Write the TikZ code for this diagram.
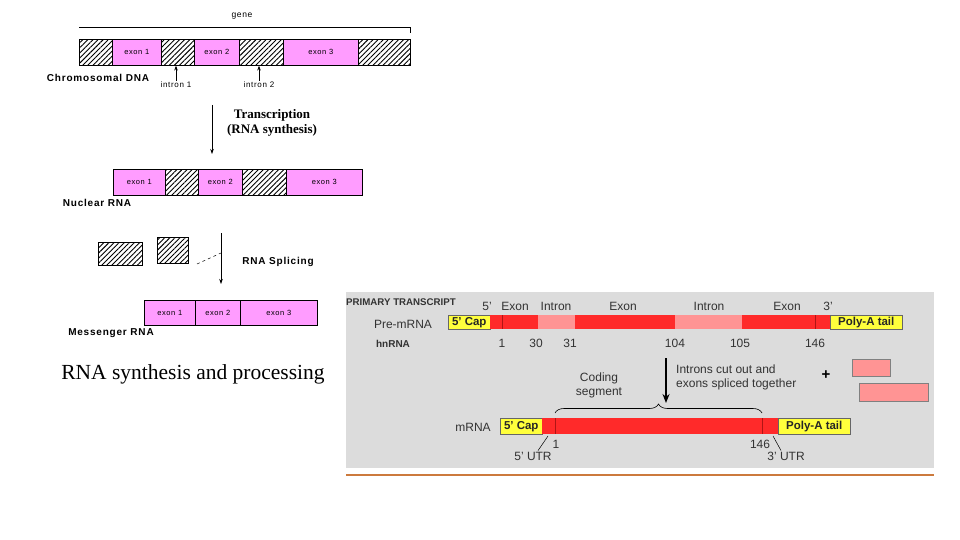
\documentclass[tikz,border=0pt]{standalone}
\usepackage{fontspec}
\setmainfont{Liberation Serif}
\setsansfont{Liberation Sans}
\newfontfamily\pixfont[LetterSpace=8]{Liberation Sans}
\usepackage{tikz}
\usetikzlibrary{arrows.meta, positioning, calc, patterns.meta, decorations.pathreplacing}
\definecolor{rnRosa}{HTML}{FF9CFF}
\definecolor{rnVermelho}{HTML}{FF2A2A}
\definecolor{rnSalmao}{HTML}{FF9494}
\definecolor{rnAmarelo}{HTML}{FFFF3C}
\definecolor{rnCinza}{HTML}{DCDCDC}
\definecolor{rnLaranja}{HTML}{CC7A3D}
\definecolor{rnEscuro}{HTML}{B01515}

\begin{document}
\begin{tikzpicture}[x=1pt, y=-1pt]
  \tikzset{
    seg/.style={draw, line width=0.6pt, anchor=north west, inner sep=0pt,
                font=\pixfont\fontsize{7.5}{8}\selectfont},
    exo/.style={seg, fill=rnRosa},
    intr/.style={seg, pattern={Lines[angle=45, distance=3.6pt, line width=0.9pt]}},
    rot/.style={font=\pixfont\bfseries\fontsize{10}{11}\selectfont, inner sep=1pt},
    miudo/.style={font=\pixfont\fontsize{8}{9}\selectfont, inner sep=1pt},
    seta/.style={-{Stealth[length=5pt, width=3.5pt]}, line width=0.6pt},
    rseg/.style={anchor=north west, inner sep=0pt, text=black!85,
                 font=\sffamily\bfseries\fontsize{11.5}{12}\selectfont},
    capa/.style={rseg, fill=rnAmarelo, draw=black!60, line width=0.5pt},
    ver/.style={rseg, fill=rnVermelho},
    sal/.style={rseg, fill=rnSalmao},
    rlab/.style={font=\sffamily\fontsize{12}{14}\selectfont, text=black!80, inner sep=1pt},
    marca/.style={rnEscuro, line width=0.6pt}}
  \useasboundingbox (0,0) rectangle (960,540);

  % chromosomal DNA
  \coordinate (gl) at (79,27);
  \coordinate (gr) at (410,27);
  \draw[line width=0.6pt] (gl) -- (gr) -- ([yshift=-6pt]gr);
  \node[miudo, font=\pixfont\fontsize{8.5}{9}\selectfont] (gn) at (242,16) {gene};
  \foreach \n/\x/\w/\s/\t in {d1/79/33/intr/, d2/112/49/exo/exon 1, d3/161/33/intr/,
      d4/194/45/exo/exon 2, d5/239/44/intr/, d6/283/75/exo/exon 3, d7/358/52/intr/}
    \node[\s, minimum width=\w pt, minimum height=26pt] (\n) at (\x,39) {\t};
  \node[rot] (cd) at (98,78) {Chromosomal DNA};
  \node[miudo] (t1) at (176,85) {intron 1};
  \node[miudo] (t2) at (259,85) {intron 2};
  \draw[seta] (t1.north) -- (t1.north |- d3.south);
  \draw[seta] (t2.north) -- (t2.north |- d5.south);

  % transcription
  \coordinate (ta) at (212,105);
  \coordinate (tb) at (212,154);
  \draw[seta] (ta) -- (tb);
  \node[font=\rmfamily\bfseries\fontsize{13}{15}\selectfont, align=center] (tr) at (272,123)
    {Transcription\\(RNA synthesis)};

  % nuclear RNA
  \foreach \n/\x/\w/\s/\t in {n1/113/52/exo/exon 1, n2/165/33/intr/, n3/198/44/exo/exon 2,
      n4/242/44/intr/, n5/286/76/exo/exon 3}
    \node[\s, minimum width=\w pt, minimum height=26pt] (\n) at (\x,169) {\t};
  \node[rot] (nr) at (97,203) {Nuclear RNA};

  % splicing
  \node[intr, minimum width=44pt, minimum height=23pt] (c1) at (98,242) {};
  \node[intr, minimum width=31pt, minimum height=26pt] (c2) at (157,237) {};
  \coordinate (sp) at (197,264);
  \coordinate (sq) at (221,253);
  \draw[dashed, line width=0.5pt] (sp) -- (sq);
  \coordinate (sa) at (221,233);
  \coordinate (sb) at (221,284);
  \draw[seta] (sa) -- (sb);
  \node[rot] (rs) at (278,262) {RNA Splicing};

  % messenger RNA
  \foreach \n/\x/\w/\t in {m1/144/51/exon 1, m2/195/45/exon 2, m3/240/77/exon 3}
    \node[exo, minimum width=\w pt, minimum height=25pt] (\n) at (\x,300) {\t};
  \node[rot] (mr) at (111,333) {Messenger RNA};
  \node[font=\rmfamily\fontsize{21.5}{23}\selectfont] (ttl) at (193,374) {RNA synthesis and processing};

  % primary transcript
  \fill[rnCinza] (346,292) rectangle (934,468);
  \draw[rnLaranja, line width=2pt] (346,475) -- (934,475);
  \node[rlab, font=\sffamily\bfseries\fontsize{9.7}{11}\selectfont, anchor=west] (pt) at (345,302) {PRIMARY TRANSCRIPT};
  \node[rlab] (pm) at (403,324) {Pre-mRNA};
  \node[rlab, font=\sffamily\bfseries\fontsize{10}{11}\selectfont] (hn) at (393,344) {hnRNA};
  \foreach \n/\x/\w/\s/\t in {p1/448/42/capa/5’ Cap, p2/490/48/ver/, p3/538/37/sal/, p4/575/100/ver/,
      p5/675/67/sal/, p6/742/88/ver/, p7/830/72/capa/Poly-A tail}
    \node[\s, minimum width=\w pt, minimum height=14pt] (\n) at (\x,315) {\t};
  \draw[marca] ([xshift=12pt]p2.north west) -- ([xshift=12pt]p2.south west);
  \draw[marca] ([xshift=73pt]p6.north west) -- ([xshift=73pt]p6.south west);
  \foreach \n/\x/\t in {l1/487/5’, l2/515/Exon, l3/556/Intron, l4/623/Exon,
      l5/709/Intron, l6/787/Exon, l7/828/3’}
    \node[rlab] (\n) at (\x,306) {\t};
  \foreach \n/\x/\t in {q1/502/1, q2/536/30, q3/570/31, q4/675/104, q5/740/105, q6/815/146}
    \node[rlab] (\n) at (\x,343) {\t};

  % splicing of the transcript
  \coordinate (ia) at (666,358);
  \coordinate (ib) at (666,403);
  \draw[line width=1.5pt, -{Stealth[length=9pt, width=7pt]}] (ia) -- (ib);
  \node[rlab, align=left, anchor=west] (ic) at (675,377) {Introns cut out and\\exons spliced together};
  \node[rlab, align=center] (cs) at (599,385) {Coding\\segment};
  \coordinate (b1) at (555,413);
  \coordinate (b2) at (762,413);
  \draw[decorate, decoration={brace, amplitude=9pt}, line width=0.6pt] (b1) -- (b2);
  \node[font=\sffamily\bfseries\fontsize{15}{15}\selectfont] (mais) at (826,375) {+};
  \node[sal, draw=black!50, line width=0.5pt, minimum width=38pt, minimum height=17pt] (f1) at (852,359) {};
  \node[sal, draw=black!50, line width=0.5pt, minimum width=69pt, minimum height=18pt] (f2) at (859,383) {};

  % mRNA
  \node[rlab] (mm) at (473,427) {mRNA};
  \foreach \n/\x/\w/\s/\t in {r1/500/42/capa/5’ Cap, r2/542/236/ver/, r3/778/72/capa/Poly-A tail}
    \node[\s, minimum width=\w pt, minimum height=16pt] (\n) at (\x,418) {\t};
  \draw[marca] ([xshift=13pt]r2.north west) -- ([xshift=13pt]r2.south west);
  \draw[marca] ([xshift=220pt]r2.north west) -- ([xshift=220pt]r2.south west);
  \node[rlab] (e1) at (556,444) {1};
  \node[rlab] (e2) at (760,444) {146};
  \node[rlab] (u5) at (533,456) {5’ UTR};
  \node[rlab] (u3) at (786,456) {3’ UTR};
  \coordinate (k5) at (548,436);
  \coordinate (k3) at (773,436);
  \draw[line width=0.5pt] ([xshift=5pt]u5.north) -- (k5);
  \draw[line width=0.5pt] ([xshift=-5pt]u3.north) -- (k3);
\end{tikzpicture}
\end{document}
